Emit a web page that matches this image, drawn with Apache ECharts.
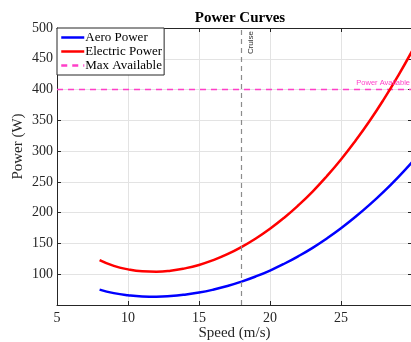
<!DOCTYPE html>
<html>
<head>
<meta charset="utf-8">
<script src="https://cdn.jsdelivr.net/npm/echarts@6/dist/echarts.min.js"></script>
<style>
  html, body { margin: 0; padding: 0; background: #fff; }
  #chart { width: 411px; height: 342px; }
</style>
</head>
<body>
<div id="chart"></div>
<script>
// Flight speed samples (m/s)
const speeds = [8, 9, 10, 11, 12, 13, 14, 15, 16, 17, 18, 19, 20, 21, 22, 23, 24, 25, 26, 27, 28, 29, 30];
// Aerodynamic power required (W)
const aeroPower = [75.0, 69.3, 65.8, 63.9, 63.5, 64.5, 66.8, 70.2, 74.9, 80.8, 88.0, 96.4, 106.0, 117.0, 129.3, 142.9, 158.1, 174.7, 192.9, 212.6, 234.0, 257.1, 282.0];
// Electrical power drawn (W)
const electricPower = [123.0, 113.6, 107.9, 104.8, 104.1, 105.7, 109.5, 115.1, 122.8, 132.5, 144.3, 158.0, 173.8, 191.8, 212.0, 234.3, 259.2, 286.4, 316.2, 348.5, 383.6, 421.5, 462.3];
// Reference levels
const maxAvailable = 400;
const cruiseSpeed = 18;
// Axis ranges
const xRange = [5, 30];
const yRange = [50, 500];
const xTickStep = 5;
const yTickStep = 50;

const serif = '"Liberation Serif", "Times New Roman", serif';
const sans = '"Liberation Sans", Arial, sans-serif';

const zip = (xs, ys) => xs.map((x, i) => [x, ys[i]]);

const chart = echarts.init(document.getElementById('chart'), null, { renderer: 'canvas' });

const axisLine = { show: true, lineStyle: { color: '#262626', width: 1 } };
const tickIn = { show: true, inside: true, length: 4, lineStyle: { color: '#262626' } };

chart.setOption({
  animation: false,
  backgroundColor: '#ffffff',
  title: {
    text: 'Power Curves',
    left: 235,
    textAlign: 'center',
    top: 6,
    textStyle: { fontFamily: serif, fontSize: 15, fontWeight: 'bold', color: '#000' }
  },
  legend: {
    left: 57,
    top: 28,
    orient: 'vertical',
    backgroundColor: '#ffffff',
    borderColor: '#262626',
    borderWidth: 1,
    borderRadius: 0,
    padding: [3, 2, 3, 3],
    itemGap: 1,
    itemWidth: 23,
    itemHeight: 13,
    itemStyle: { opacity: 0 },
    lineStyle: { width: 2.5 },
    textStyle: { fontFamily: serif, fontSize: 13, color: '#000', padding: [0, 0, 0, -4] },
    data: ['Aero Power', 'Electric Power', 'Max Available']
  },
  grid: { left: 57, top: 28, width: 355, height: 277, containLabel: false, outerBoundsMode: 'none' },
  xAxis: [{
    type: 'value',
    min: xRange[0], max: xRange[1], interval: xTickStep,
    name: 'Speed (m/s)',
    nameLocation: 'middle',
    nameGap: 21,
    nameMoveOverlap: false,
    nameTextStyle: { fontFamily: serif, fontSize: 15, color: '#262626' },
    axisLine: axisLine,
    axisTick: tickIn,
    axisLabel: { fontFamily: serif, fontSize: 14, color: '#262626', margin: 6, showMaxLabel: false },
    splitLine: { show: true, lineStyle: { color: '#e3e3e3', width: 1 } }
  }, {
    type: 'value', position: 'top',
    min: xRange[0], max: xRange[1], interval: xTickStep,
    axisLine: axisLine, axisTick: tickIn,
    axisLabel: { show: false }, splitLine: { show: false }
  }],
  yAxis: [{
    type: 'value',
    min: yRange[0], max: yRange[1], interval: yTickStep,
    name: 'Power (W)',
    nameLocation: 'middle',
    nameGap: 31,
    nameMoveOverlap: false,
    nameTextStyle: { fontFamily: serif, fontSize: 15, color: '#262626', padding: [0, 0, 0, 40] },
    axisLine: axisLine,
    axisTick: tickIn,
    axisLabel: { fontFamily: serif, fontSize: 14, color: '#262626', margin: 4, showMinLabel: false },
    splitLine: { show: true, lineStyle: { color: '#e3e3e3', width: 1 } }
  }, {
    type: 'value', position: 'right',
    min: yRange[0], max: yRange[1], interval: yTickStep,
    axisLine: axisLine, axisTick: tickIn,
    axisLabel: { show: false }, splitLine: { show: false }
  }],
  series: [
    {
      name: 'Max Available',
      type: 'line',
      symbol: 'none',
      data: zip(xRange, [maxAvailable, maxAvailable]),
      lineStyle: { color: '#ff3fc8', width: 1.5, type: [6, 5] },
      itemStyle: { color: '#ff3fc8' },
      z: 3,
      markLine: {
        silent: true,
        symbol: 'none',
        lineStyle: { color: 'rgba(0,0,0,0)', width: 1 },
        label: {
          show: true,
          position: 'insideEndTop',
          formatter: 'Power Available',
          fontFamily: sans,
          fontSize: 7.5,
          color: '#ff3fc8',
          distance: [2, 3]
        },
        data: [{ yAxis: maxAvailable }]
      }
    },
    {
      name: 'Cruise',
      type: 'line',
      symbol: 'none',
      data: [],
      markLine: {
        silent: true,
        symbol: 'none',
        lineStyle: { color: '#8c8c8c', width: 1.2, type: [5, 4] },
        label: {
          show: true,
          position: 'insideEndBottom',
          formatter: 'Cruise',
          fontFamily: sans,
          fontSize: 8,
          color: '#333',
          distance: [3, 5]
        },
        data: [{ xAxis: cruiseSpeed }]
      }
    },
    {
      name: 'Aero Power',
      type: 'line',
      symbol: 'none',
      data: zip(speeds, aeroPower),
      smooth: true,
      lineStyle: { color: '#0000ff', width: 2.5 },
      itemStyle: { color: '#0000ff' },
      z: 4
    },
    {
      name: 'Electric Power',
      type: 'line',
      symbol: 'none',
      data: zip(speeds, electricPower),
      smooth: true,
      lineStyle: { color: '#ff0000', width: 2.5 },
      itemStyle: { color: '#ff0000' },
      z: 4
    }
  ]
});
</script>
</body>
</html>
